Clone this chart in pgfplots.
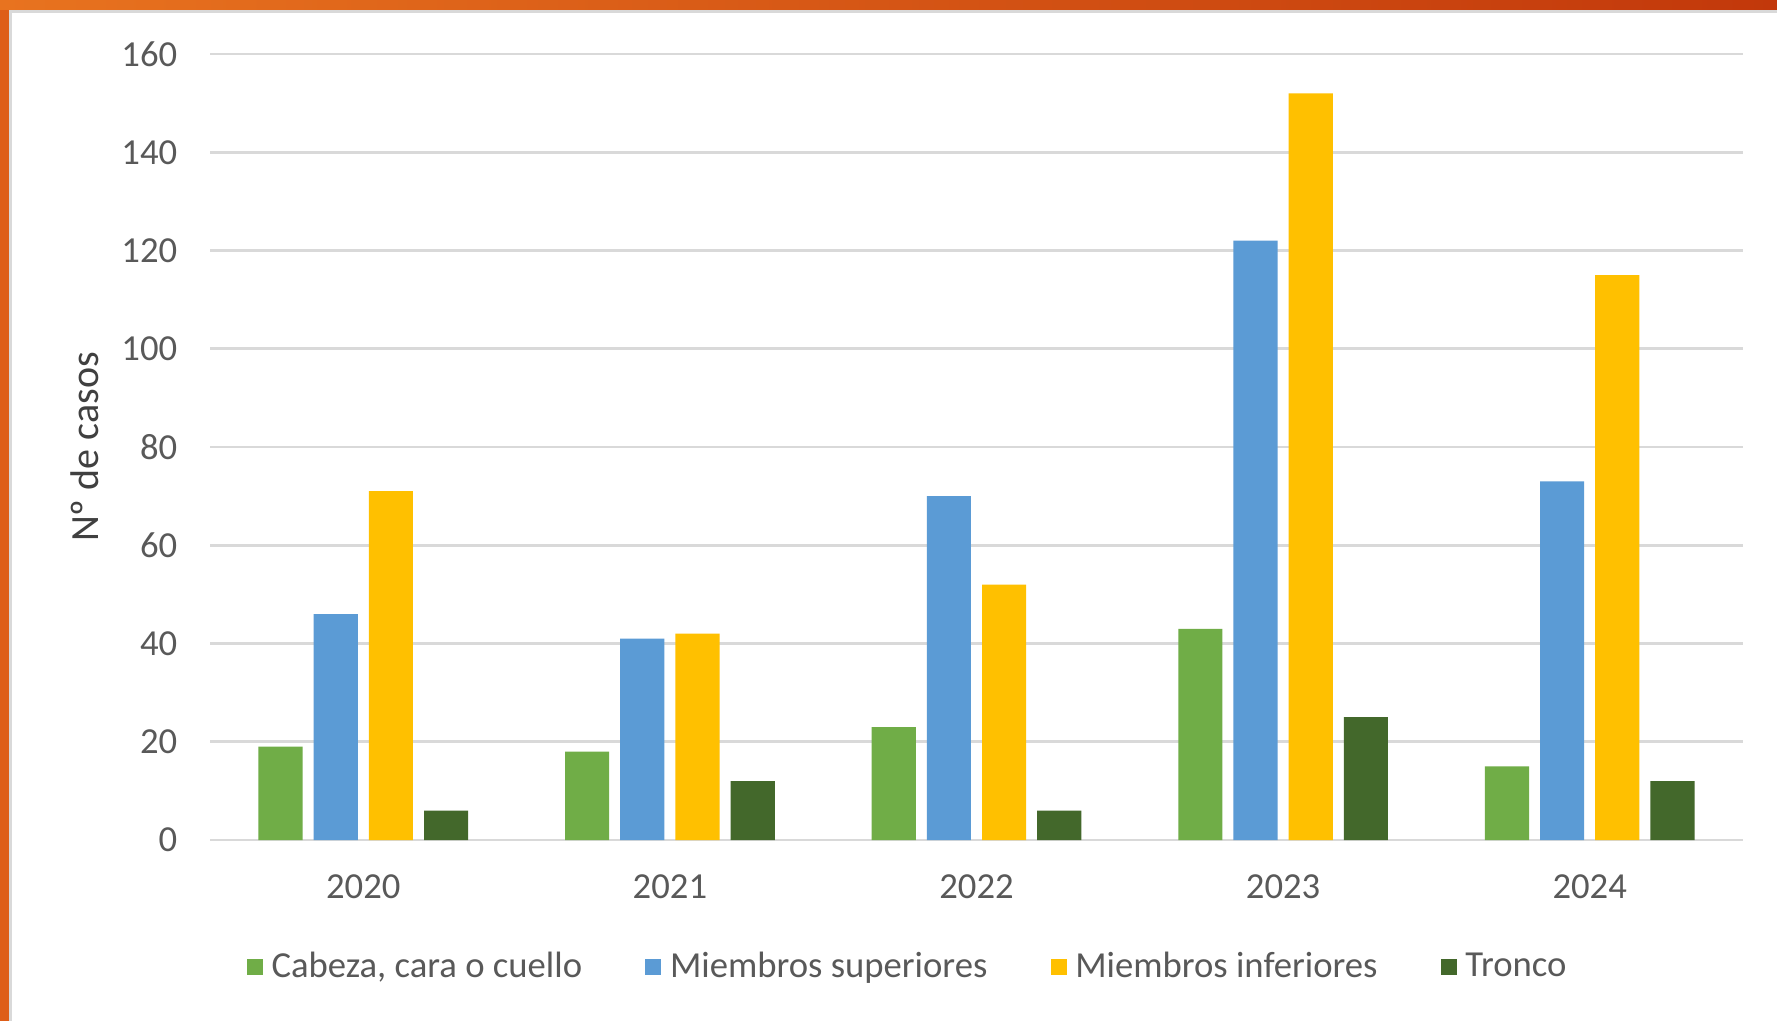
\documentclass[border=0pt]{standalone}
\usepackage{pgfplots}
\pgfplotsset{compat=1.18}
\usepackage{fontspec}
\setmainfont{Carlito}
\definecolor{cgreen}{HTML}{70AD47}
\definecolor{cblue}{HTML}{5B9BD5}
\definecolor{cyellow}{HTML}{FFC000}
\definecolor{cdark}{HTML}{43682B}
\definecolor{tickgray}{HTML}{595959}
\definecolor{labgray}{HTML}{404040}
\definecolor{gridgray}{HTML}{D9D9D9}
\definecolor{orA}{HTML}{E8731F}
\definecolor{orB}{HTML}{C2380B}
\definecolor{orL}{HTML}{DE5E18}
\begin{document}
\begin{tikzpicture}
\useasboundingbox (0,0) rectangle (533.1pt,306.3pt);
\fill[white] (0,0) rectangle (533.1pt,306.3pt);
\shade[left color=orA, right color=orB] (0,303.3pt) rectangle (533.1pt,306.3pt);
\fill[orL] (0,0) rectangle (2.7pt,303.3pt);
\fill[gridgray] (2.7pt,302.4pt) rectangle (533.1pt,303.3pt);
\fill[gridgray] (2.7pt,0) rectangle (3.6pt,302.4pt);
\begin{axis}[
  at={(63pt,54.3pt)}, anchor=south west,
  scale only axis, width=459.9pt, height=235.8pt,
  xmin=-0.5, xmax=4.5, ymin=0, ymax=160,
  xtick={0,1,2,3,4}, xticklabels={2020,2021,2022,2023,2024},
  ytick={0,20,40,60,80,100,120,140,160},
  axis line style={draw=none},
  major tick length=0pt,
  ymajorgrids, grid style={draw=gridgray, line width=0.8pt},
  tick label style={font=\fontsize{11}{13}\selectfont, text=tickgray},
  /pgf/number format/assume math mode=true,
  yticklabel style={anchor=east, xshift=-6.3pt},
  xticklabel style={anchor=base, yshift=-17.6pt},
  ylabel={Nº de casos},
  ylabel style={at={(axis description cs:-0.0815,0.5)}, anchor=center, font=\fontsize{12}{14}\selectfont, text=labgray},
  ybar, bar width=0.144,
  legend columns=4,
  legend style={at={(axis description cs:0.4566,-0.1616)}, anchor=center, draw=none, fill=none,
    font=\fontsize{11}{13}\selectfont, text=tickgray,
    /tikz/every even column/.append style={column sep=17pt}},
  legend image code/.code={\fill[#1] (0pt,-2.4pt) rectangle (4.8pt,2.4pt); \path (5.4pt,0);},
  legend cell align=left,
]
\addplot[fill=cgreen, draw=none, bar shift=-0.27] coordinates {(0,19) (1,18) (2,23) (3,43) (4,15)};
\addplot[fill=cblue, draw=none, bar shift=-0.09] coordinates {(0,46) (1,41) (2,70) (3,122) (4,73)};
\addplot[fill=cyellow, draw=none, bar shift=0.09] coordinates {(0,71) (1,42) (2,52) (3,152) (4,115)};
\addplot[fill=cdark, draw=none, bar shift=0.27] coordinates {(0,6) (1,12) (2,6) (3,25) (4,12)};
\legend{{Cabeza, cara o cuello}, Miembros superiores, Miembros inferiores, Tronco}
\end{axis}
\end{tikzpicture}
\end{document}
